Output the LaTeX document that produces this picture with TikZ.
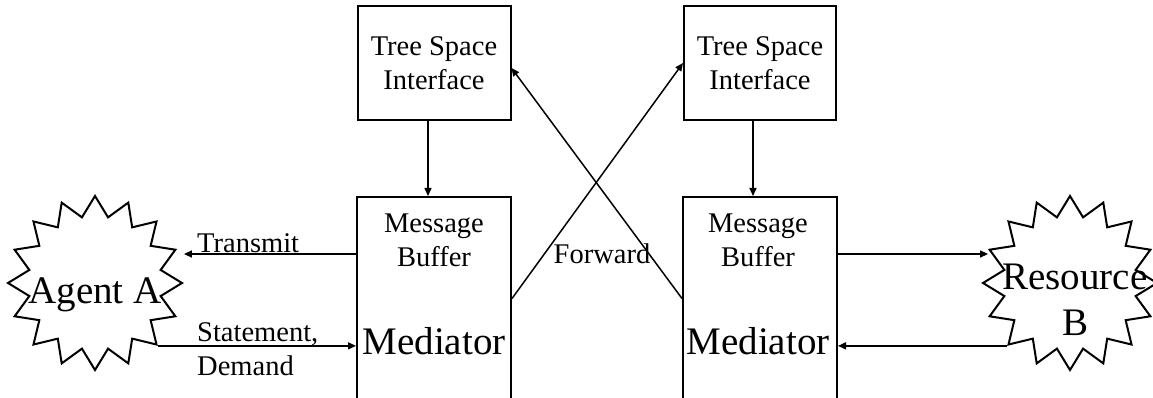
\documentclass[tikz,border=0pt]{standalone}
\usepackage{fontspec}
\setmainfont{Liberation Serif}
\usetikzlibrary{positioning,arrows.meta,shapes.geometric}

\begin{document}
\begin{tikzpicture}[x=1pt,y=-1pt,
  box/.style={draw,line width=2pt,rectangle,inner sep=0pt},
  burst/.style={draw,line width=2pt,star,star points=16,star point ratio=1.3,
    minimum size=174pt,inner sep=0pt},
  arr/.style={-{Triangle[length=8pt,width=7pt]},line width=1.5pt},
  small/.style={font=\fontsize{28.5}{34}\selectfont,align=center,inner sep=0pt},
  big/.style={font=\fontsize{39}{46}\selectfont,align=center,inner sep=0pt}]
  \useasboundingbox (0,0) rectangle (1153,398);
  % mediators and tree space interfaces
  \node[box,minimum width=154pt,minimum height=203pt] (medA) at (434,298.5) {};
  \node[box,minimum width=154pt,minimum height=203pt,right=170pt of medA] (medB) {};
  \node[box,minimum width=153pt,minimum height=114pt,small,above=75pt of medA] (tsiA) {Tree Space\\Interface};
  \node[box,minimum width=152pt,minimum height=114pt,small,above=75pt of medB] (tsiB) {Tree Space\\Interface};
  \node[small] (bufA) at (434,240) {Message\\Buffer};
  \node[small] (bufB) at (758,240) {Message\\Buffer};
  \node[big] (mtxtA) at (434,341) {Mediator};
  \node[big] (mtxtB) at (758,341) {Mediator};
  % agent and resource
  \node[burst] (agent) at (95,283) {};
  \node[big] (agentTxt) at (95,295) {Agent A};
  \node[burst] (res) at (1070,283) {};
  \node[big] (resTxt) at (1075,300) {Resource\\B};
  \coordinate (tipL) at ([yshift=29pt]agent.east);
  \coordinate (tipR) at ([shift={(7pt,29pt)}]res.west);
  % connectors
  \draw[arr] ([xshift=-6pt]tsiA.south) -- ([xshift=-6pt]tsiA.south |- medA.north);
  \draw[arr] ([xshift=-7pt]tsiB.south) -- ([xshift=-7pt]tsiB.south |- medB.north);
  \draw[arr] (tipL -| medA.west) -- (tipL);
  \draw[arr] (agent.-45) -- (agent.-45 -| medA.west);
  \draw[arr] (tipR -| medB.east) -- (tipR);
  \draw[arr] (res.-135) -- (res.-135 -| medB.east);
  \draw[arr] (medA.east) -- (tsiB.west);
  \draw[arr] (medB.west) -- ([yshift=-5pt]tsiA.east);
  % labels
  \node[small,anchor=base west] (lTrans) at (197,252) {Transmit};
  \node[small,anchor=base west,align=left] (lStat) at (197,375) {Statement,\\Demand};
  \node[small] (lFwd) at (602,254) {Forward};
\end{tikzpicture}
\end{document}
